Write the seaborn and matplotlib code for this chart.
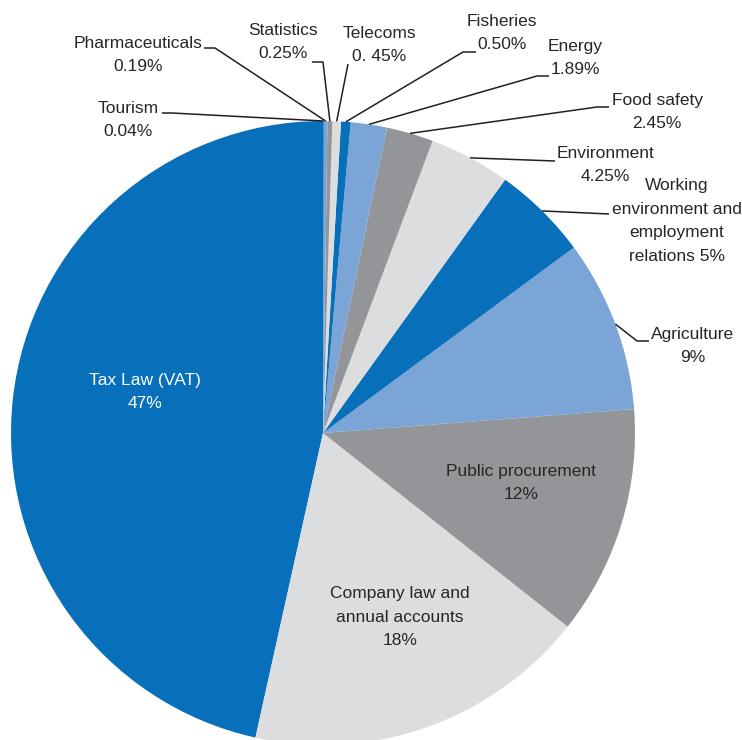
import numpy as np
import matplotlib
matplotlib.use("Agg")
import matplotlib.pyplot as plt
import seaborn as sns

# ---- data ----
categories = ["Tax Law (VAT)", "Company law and\nannual accounts", "Public procurement",
              "Agriculture", "Working\nenvironment and\nemployment\nrelations", "Environment",
              "Food safety", "Energy", "Fisheries", "Telecoms", "Statistics",
              "Pharmaceuticals", "Tourism"]
values = [47, 18, 12, 9, 5, 4.25, 2.45, 1.89, 0.50, 0.45, 0.25, 0.19, 0.04]
value_labels = ["47%", "18%", "12%", "9%", "5%", "4.25%", "2.45%", "1.89%",
                "0.50%", "0. 45%", "0.25%", "0.19%", "0.04%"]

DARK_BLUE = "#0870BA"
LIGHT_GRAY = "#DCDDDF"
GRAY = "#949598"
LIGHT_BLUE = "#7BA4D7"
colors = [DARK_BLUE, LIGHT_GRAY, GRAY, LIGHT_BLUE] * 3 + [DARK_BLUE]

sns.set_theme(style="white")
plt.rcParams["font.family"] = ["Liberation Sans", "DejaVu Sans"]

W, H = 742, 740
DPI = 100
CX, CY, R = 323, 433, 312  # pie centre / radius in pixels

fig = plt.figure(figsize=(W / DPI, H / DPI), dpi=DPI)
ax = fig.add_axes([0, 0, 1, 1])


def px(x, y):
    return (x - CX) / R, (CY - y) / R


wedges, _ = ax.pie(values, colors=colors, startangle=90, counterclock=True,
                   radius=1.0, center=(0, 0), wedgeprops=dict(linewidth=0))

ax.set_aspect("auto")
ax.set_xlim((0 - CX) / R, (W - CX) / R)
ax.set_ylim((CY - H) / R, CY / R)
ax.set_autoscale_on(False)
ax.axis("off")

TEXT = "#262626"
FS = 12.5
LS = 1.7

# layout: label centre (px), leader-line path points (px) from label side, separator
layout = {
    "Tax Law (VAT)": dict(pos=(145, 392), path=None, sep="\n", color="white"),
    "Company law and\nannual accounts": dict(pos=(400, 617), path=None, sep="\n"),
    "Public procurement": dict(pos=(521, 483), path=None, sep="\n"),
    "Agriculture": dict(pos=(693, 346), path=[(649, 341), (637, 341)], sep="\n"),
    "Working\nenvironment and\nemployment\nrelations": dict(pos=(677, 221), path=[(609, 214)], sep=" "),
    "Environment": dict(pos=(605, 165), path=[(555, 161)], sep="\n"),
    "Food safety": dict(pos=(657, 112), path=[(609, 107), (597, 107)], sep="\n"),
    "Energy": dict(pos=(575, 58), path=[(549, 76), (537, 76)], sep="\n"),
    "Fisheries": dict(pos=(502, 33), path=[(476, 52), (463, 52)], sep="\n"),
    "Telecoms": dict(pos=(379, 45), path=[(348, 64)], sep="\n"),
    "Statistics": dict(pos=(283, 42), path=[(312, 62), (323, 62)], sep="\n"),
    "Pharmaceuticals": dict(pos=(138, 55), path=[(204, 48), (215, 48)], sep="\n"),
    "Tourism": dict(pos=(128, 120), path=[(162, 113), (172, 113)], sep="\n"),
}

for w, cat, vl in zip(wedges, categories, value_labels):
    lay = layout[cat]
    tx, ty = px(*lay["pos"])
    ax.text(tx, ty, cat + lay["sep"] + vl, ha="center", va="center",
            multialignment="center", fontsize=FS, linespacing=LS,
            color=lay.get("color", TEXT))
    if lay["path"] is not None:
        ang = np.deg2rad((w.theta1 + w.theta2) / 2)
        ax_x, ax_y = w.r * np.cos(ang), w.r * np.sin(ang)
        pts = [px(*p) for p in lay["path"]] + [(ax_x, ax_y)]
        xs, ys = zip(*pts)
        ax.plot(xs, ys, color="#231F20", lw=1.1, solid_capstyle="butt")

fig.savefig("out.png", dpi=DPI)
